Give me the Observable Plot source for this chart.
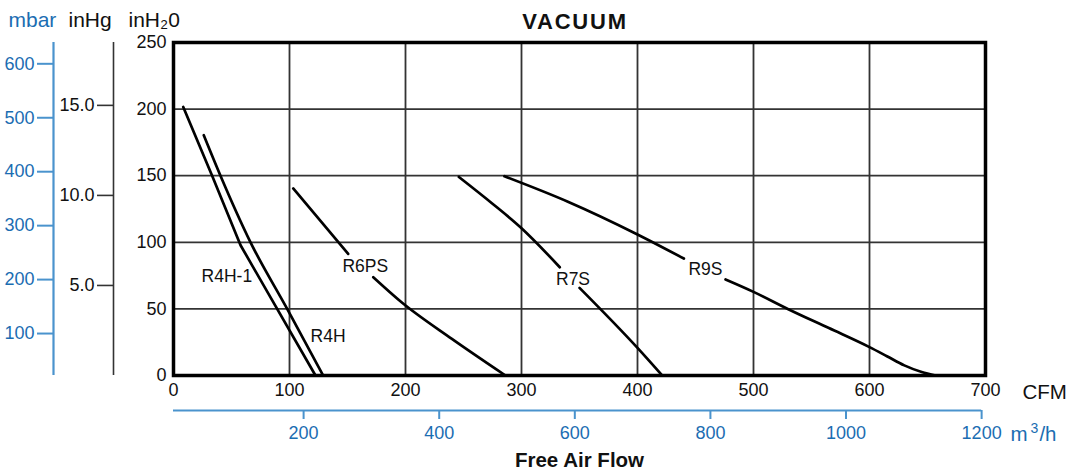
<!DOCTYPE html>
<html><head><meta charset="utf-8">
<script src="https://cdn.jsdelivr.net/npm/d3@7"></script>
<script src="https://cdn.jsdelivr.net/npm/@observablehq/plot@0.6"></script>
<style>body{margin:0;background:#fff}</style>
</head><body><div id="chart"></div>
<script>
// ---- tick labels ----
const cfmTicks = [0, 100, 200, 300, 400, 500, 600, 700];
const inH2OTicks = [0, 50, 100, 150, 200, 250];
const mbarTicks = [100, 200, 300, 400, 500, 600];
const inHgTicks = [5, 10, 15];
const inHgLabels = ["5.0", "10.0", "15.0"];
const m3hTicks = [200, 400, 600, 800, 1000, 1200];
const gridX = [100, 200, 300, 400, 500, 600];
const gridY = [50, 100, 150, 200];

// ---- curves: [CFM, inH2O] (segments split where labels sit) ----
const r4h1 = [[8.4, 201.6], [33.3, 150], [57.8, 97.8], [122.4, 0]];
const r4h = [[26.1, 180.4], [40.5, 150], [66.4, 100], [98, 50], [129, 0]];
const r6psUpper = [[103.2, 140.4], [150.6, 91.3]];
const r6psLower = [[172.2, 73.8], [196.6, 55], [240, 27.5], [286.2, 0]];
const r7sUpper = [[246, 149.1], [275, 129], [299.1, 111.3], [333, 81.3]];
const r7sLower = [[350, 65.8], [400, 20.7], [421.3, 0]];
const r9sUpper = [[285.3, 149.6], [340, 130.5], [400, 105.9], [440, 87.8]];
const r9sLower = [[475.9, 72.1], [500, 62.8], [530, 49.8], [565, 35.6], [600, 21.3], [615, 14.5], [630, 7.6], [645, 2.6], [657, 0]];

// ---- curve labels ----
const curveNames = ["R4H-1", "R4H", "R6PS", "R7S", "R9S"];
const labelCfm = [46, 133.2, 165.3, 344.4, 458.6];
const labelInH2O = [74.5, 29.1, 81.7, 72.4, 79.3];

// ---- secondary scale mappings (as drawn on the chart) ----
const mbarToInH2O = m => 0.405 * m - 9;
const inHgToInH2O = h => 13.52 * h;
const m3hToCfm = q => 0.5845 * q - 4.74;

const blueText = "#1b6db2";
const blueLine = "#4a93cd";
const font = "'Liberation Sans', Arial, Helvetica, sans-serif";

const segments = [
  {pts: r4h1, curve: "linear"},
  {pts: r4h, curve: "monotone-x"},
  {pts: r6psUpper, curve: "linear"},
  {pts: r6psLower, curve: "monotone-x"},
  {pts: r7sUpper, curve: "monotone-x"},
  {pts: r7sLower, curve: "monotone-x"},
  {pts: r9sUpper, curve: "monotone-x"},
  {pts: r9sLower, curve: "monotone-x"}
];

const mbarPos = mbarTicks.map(mbarToInH2O);
const mbarMap = new Map(mbarPos.map((p, i) => [p, String(mbarTicks[i])]));
const inHgPos = inHgTicks.map(inHgToInH2O);
const inHgMap = new Map(inHgPos.map((p, i) => [p, inHgLabels[i]]));
const m3hPos = m3hTicks.map(m3hToCfm);
const m3hMap = new Map(m3hPos.map((p, i) => [p, String(m3hTicks[i])]));

const labels = curveNames.map((n, i) => ({n, x: labelCfm[i], y: labelInH2O[i]}));

const chart = Plot.plot({
  width: 1070,
  height: 470,
  marginTop: 42,
  marginRight: 85,
  marginBottom: 95,
  marginLeft: 173,
  style: {fontFamily: font, fontSize: "17px", background: "#fff", color: "#111"},
  x: {domain: [0, 700], axis: null},
  y: {domain: [0, 250], axis: null},
  marks: [
    Plot.ruleX(gridX, {stroke: "#333", strokeWidth: 1.8}),
    Plot.ruleY(gridY, {stroke: "#333", strokeWidth: 1.8}),
    ...segments.map(s => Plot.line(s.pts, {x: d => d[0], y: d => d[1], stroke: "#000", strokeWidth: 2.7, curve: s.curve})),
    Plot.text(labels, {x: "x", y: "y", text: "n", fontSize: 17.5, fill: "#111"}),
    Plot.frame({stroke: "#000", strokeWidth: 3.5}),
    // main axes
    Plot.axisX(cfmTicks, {anchor: "bottom", label: null, tickSize: 0, tickPadding: 8, fontSize: 18, fill: "#111", tickFormat: d => String(d)}),
    Plot.axisY(inH2OTicks, {anchor: "left", label: null, tickSize: 0, tickPadding: 7, fontSize: 18, fill: "#111", tickFormat: d => String(d)}),
    // mbar axis
    Plot.ruleX([0], {dx: -120, stroke: blueLine, strokeWidth: 2.2}),
    Plot.axisY(mbarPos, {anchor: "left", label: null, dx: -120, tickSize: 16, tickPadding: 3, stroke: blueLine, strokeWidth: 2, fill: blueText, fontSize: 18, tickFormat: d => mbarMap.get(d)}),
    // inHg axis
    Plot.ruleX([0], {dx: -60, stroke: "#333", strokeWidth: 1.6}),
    Plot.axisY(inHgPos, {anchor: "left", label: null, dx: -60, tickSize: 16, tickPadding: 3, stroke: "#333", strokeWidth: 1.6, fill: "#111", fontSize: 18, tickFormat: d => inHgMap.get(d)}),
    // m3/h axis
    Plot.ruleY([0], {x1: 0, x2: m3hToCfm(1200), dy: 35, stroke: blueLine, strokeWidth: 2}),
    Plot.axisX(m3hPos, {anchor: "bottom", label: null, dy: 35, tickSize: 9, tickPadding: 7, stroke: blueLine, strokeWidth: 2, fill: blueText, fontSize: 18, tickFormat: d => m3hMap.get(d)}),
    // unit labels and titles
    Plot.text(["mbar"], {frameAnchor: "top-left", lineAnchor: "middle", dx: -165, dy: -22.4, textAnchor: "start", fontSize: 21, fill: blueText}),
    Plot.text(["inHg"], {frameAnchor: "top-left", lineAnchor: "middle", dx: -105, dy: -22.4, textAnchor: "start", fontSize: 21, fill: "#111"}),
    Plot.text(["inH\u20820"], {frameAnchor: "top-left", lineAnchor: "middle", dx: -45, dy: -22.4, textAnchor: "start", fontSize: 21, fill: "#111"}),
    Plot.text(["VACUUM"], {frameAnchor: "top", lineAnchor: "middle", dx: -4.5, dy: -21, fontSize: 22, fontWeight: "bold", fill: "#111"}),
    Plot.text(["CFM"], {frameAnchor: "bottom-right", lineAnchor: "middle", dx: 37, dy: 16.7, textAnchor: "start", fontSize: 20.5, fill: "#111"}),
    Plot.text(["m\u00B3/h"], {frameAnchor: "bottom-right", lineAnchor: "middle", dx: 25, dy: 59, textAnchor: "start", fontSize: 20.5, fill: blueText}),
    Plot.text(["Free Air Flow"], {frameAnchor: "bottom", lineAnchor: "middle", dy: 84.6, fontSize: 20.5, fontWeight: "bold", fill: "#111"})
  ]
});
document.getElementById("chart").appendChild(chart);
chart.querySelectorAll("text").forEach(t => {
  if (t.textContent === "VACUUM") t.setAttribute("letter-spacing", "1.8");
  if (t.textContent === "m\u00B3/h") {
    t.textContent = "";
    const ns = "http://www.w3.org/2000/svg";
    const a = document.createElementNS(ns, "tspan"); a.textContent = "m"; t.appendChild(a);
    const b = document.createElementNS(ns, "tspan"); b.textContent = "3"; b.setAttribute("dy", "-8"); b.setAttribute("dx", "3"); b.setAttribute("font-size", "14"); t.appendChild(b);
    const c = document.createElementNS(ns, "tspan"); c.textContent = "/h"; c.setAttribute("dy", "8"); c.setAttribute("dx", "1"); t.appendChild(c);
  }
});
</script>
</body></html>
